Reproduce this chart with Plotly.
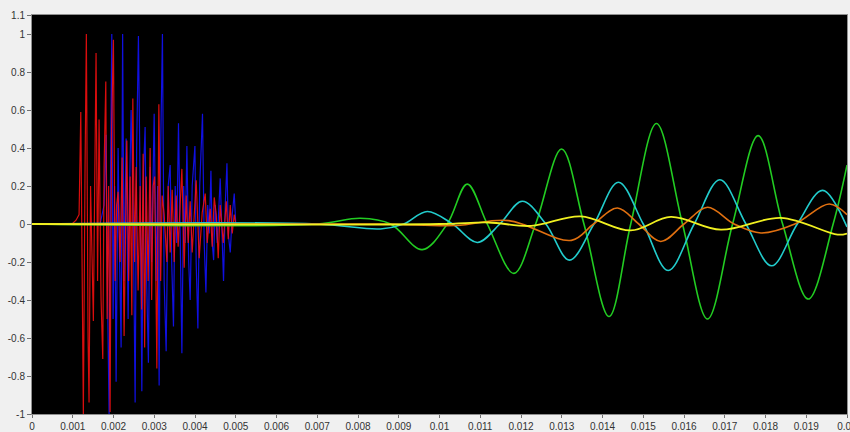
import plotly.graph_objects as go

# ---- data (time in ms for the bursts, seconds for the waves) ----
red_t_ms = [0, 0.983, 1.081, 1.155, 1.197, 1.229, 1.260, 1.302, 1.334, 1.376, 1.400, 1.437, 1.474, 1.506,
            1.548, 1.572, 1.609, 1.646, 1.695, 1.737, 1.769, 1.811, 1.843, 1.880, 1.916, 1.953, 1.998,
            2.039, 2.076, 2.113, 2.162, 2.211, 2.260, 2.327, 2.371, 2.408, 2.450, 2.474, 2.518, 2.555,
            2.604, 2.654, 2.690, 2.727, 2.764, 2.801, 2.850, 2.899, 2.936, 2.973, 3.010, 3.064, 3.113,
            3.157, 3.194, 3.243, 3.310, 3.342, 3.391, 3.440, 3.489, 3.538, 3.587, 3.678, 3.735, 3.784,
            3.833, 3.882, 3.931, 4.029, 4.103, 4.177, 4.251, 4.300, 4.373, 4.423, 4.472, 4.521, 4.570,
            4.619, 4.693, 4.767, 4.816, 4.865, 4.914, 4.963, 5.000]
red_v = [0, 0.0, 0.02, 0.05, 0.59, -0.45, -1.0, 0.3, 1.0, -0.6, -0.94, 0.2, -0.3, -0.51,
         0.4, 0.90, -0.3, 0.55, -0.4, -0.71, 0.3, 0.75, -0.5, 0.2, -0.99, 0.5, 0.97,
         -0.3, 0.1, 0.17, -0.2, 0.35, -0.59, 0.44, -0.3, 0.25, -0.48, 0.66, -0.2, 0.3,
         -0.35, 0.2, -0.45, 0.37, -0.65, 0.25, -0.3, 0.40, -0.40, 0.2, 0.25, -0.76, 0.63,
         -0.3, 0.15, 0.05, -0.20, 0.20, -0.15, 0.18, -0.2, 0.15, -0.12, 0.29, -0.23, 0.15,
         -0.1, 0.12, -0.15, 0.23, -0.18, 0.06, 0.16, -0.1, 0.08, -0.12, 0.14, 0.05, -0.18,
         0.1, -0.1, 0.12, -0.08, 0.1, -0.05, 0.05, 0.0]

blue_t_ms = [0, 1.671, 1.769, 1.818, 1.855, 1.892, 1.929, 1.958, 1.990, 2.027, 2.064, 2.113, 2.150,
             2.187, 2.224, 2.260, 2.310, 2.359, 2.396, 2.432, 2.482, 2.531, 2.568, 2.612, 2.654,
             2.695, 2.740, 2.776, 2.813, 2.857, 2.899, 2.936, 2.998, 3.047, 3.084, 3.120, 3.157,
             3.201, 3.243, 3.292, 3.342, 3.391, 3.428, 3.472, 3.514, 3.550, 3.595, 3.636, 3.678,
             3.722, 3.759, 3.801, 3.845, 3.882, 3.931, 3.998, 4.029, 4.071, 4.115, 4.184, 4.226,
             4.268, 4.312, 4.349, 4.391, 4.423, 4.457, 4.496, 4.545, 4.619, 4.668, 4.700, 4.742,
             4.784, 4.816, 4.865, 4.914, 4.963, 5.000]
blue_v = [0, 0.0, 0.1, 0.47, -0.4, -1.0, 0.3, 1.0, -0.5, 0.2, -0.83, 0.4, -0.2,
          -0.65, 1.0, -0.3, 0.45, -0.5, 0.2, 0.60, 0.1, -0.94, 0.4, 0.99, 0.2,
          -0.88, 0.3, 0.51, -0.3, -0.73, 0.3, -0.2, 0.58, -0.3, 0.2, -0.85, 0.4,
          1.0, -0.3, -0.67, 0.2, 0.31, -0.2, -0.54, 0.2, -0.1, 0.53, -0.2, -0.68,
          0.2, -0.1, 0.41, -0.2, -0.40, 0.2, 0.41, -0.2, -0.55, 0.2, 0.58, -0.1,
          -0.36, 0.1, -0.05, 0.28, -0.1, -0.19, 0.1, -0.1, 0.24, -0.1, -0.30, 0.1,
          0.32, -0.05, -0.15, 0.05, 0.16, 0.0]

green_t = [0, 0.0070, 0.00806, 0.00880, 0.009575, 0.010189, 0.010681, 0.011172, 0.011826, 0.012359,
           0.012998, 0.013545, 0.01416, 0.014693, 0.015324, 0.015963, 0.016577, 0.017192, 0.017821,
           0.01842, 0.019049, 0.01966, 0.0200]
green_v = [0, 0.0, 0.03, 0.0, -0.135, 0.0, 0.21, 0.0, -0.26, 0.0,
           0.395, 0.0, -0.487, 0.0, 0.529, 0.0, -0.50, 0.0, 0.465,
           0.0, -0.395, 0.0, 0.31]

cyan_t = [0, 0.0070, 0.00855, 0.00912, 0.00970, 0.01032, 0.01093, 0.01148, 0.01203, 0.01261, 0.01319,
          0.01379, 0.01439, 0.0150, 0.01561, 0.01625, 0.01688, 0.01752, 0.01815, 0.01878, 0.01940, 0.0200]
cyan_v = [0, 0.0, -0.026, 0.0, 0.066, 0.0, -0.097, 0.0, 0.12, 0.0, -0.19,
          0.0, 0.22, 0.0, -0.245, 0.0, 0.233, 0.0, -0.22, 0.0, 0.177, -0.016]

orange_t = [0, 0.0085, 0.0104, 0.0117, 0.013236, 0.01378, 0.014366, 0.01489, 0.01543, 0.0160,
            0.016577, 0.01723, 0.017887, 0.01872, 0.019565, 0.0200]
orange_v = [0, 0.0, -0.008, 0.018, -0.086, 0.0, 0.084, 0.0, -0.092, 0.0,
            0.088, 0.0, -0.047, 0.0, 0.105, 0.049]

yellow_t = [0, 0.0100, 0.0112, 0.01225, 0.013464, 0.014693, 0.015676, 0.016904, 0.018378, 0.019771, 0.0200]
yellow_v = [0, 0.0, 0.008, -0.01, 0.04, -0.034, 0.037, -0.03, 0.032, -0.056, -0.05]

x_ticks = [i / 1000 for i in range(0, 21)]
x_tick_text = ["0"] + ["0.%03d" % i for i in range(1, 10)] + ["0.01"] + ["0.%03d" % i for i in range(11, 20)] + ["0.02"]
y_ticks = [-1, -0.8, -0.6, -0.4, -0.2, 0, 0.2, 0.4, 0.6, 0.8, 1, 1.1]
y_tick_text = ["-1", "-0.8", "-0.6", "-0.4", "-0.2", "0", "0.2", "0.4", "0.6", "0.8", "1", "1.1"]

fig = go.Figure()
fig.add_trace(go.Scatter(x=[t / 1000 for t in blue_t_ms], y=blue_v, mode="lines",
                         line=dict(color="#1010e0", width=1.2)))
fig.add_trace(go.Scatter(x=[t / 1000 for t in red_t_ms], y=red_v, mode="lines", opacity=0.85,
                         line=dict(color="#ff1010", width=1.2)))
fig.add_trace(go.Scatter(x=green_t, y=green_v, mode="lines",
                         line=dict(color="#22cc22", width=1.6, shape="spline", smoothing=1.0)))
fig.add_trace(go.Scatter(x=cyan_t, y=cyan_v, mode="lines",
                         line=dict(color="#22cccc", width=1.6, shape="spline", smoothing=1.0)))
fig.add_trace(go.Scatter(x=orange_t, y=orange_v, mode="lines",
                         line=dict(color="#e07010", width=1.6, shape="spline", smoothing=1.0)))
fig.add_trace(go.Scatter(x=yellow_t, y=yellow_v, mode="lines",
                         line=dict(color="#f0f020", width=1.8, shape="spline", smoothing=1.0)))

axis_font = dict(family="Liberation Sans, Arial, sans-serif", size=10, color="#333333")
fig.update_layout(
    width=850, height=432,
    margin=dict(l=32, r=3, t=15, b=18),
    paper_bgcolor="#f0f0f0",
    plot_bgcolor="#000000",
    showlegend=False,
    xaxis=dict(range=[0, 0.02], tickvals=x_ticks, ticktext=x_tick_text, showgrid=False, zeroline=False,
               ticks="outside", ticklen=3, tickcolor="#707070", showline=True, linecolor="#909090",
               mirror=True, tickfont=axis_font, automargin=False, ticklabeloverflow="allow"),
    yaxis=dict(range=[-1, 1.1], tickvals=y_ticks, ticktext=y_tick_text, showgrid=False, zeroline=False,
               ticks="outside", ticklen=4, tickcolor="#707070", showline=True, linecolor="#909090",
               mirror=True, tickfont=axis_font, automargin=False, ticklabeloverflow="allow"),
)

fig.write_html(
    "out.html",
    config={"displayModeBar": False},
    post_script="document.body.style.margin='0';document.body.style.background='#f0f0f0';"
                "document.documentElement.style.overflow='hidden';",
)
